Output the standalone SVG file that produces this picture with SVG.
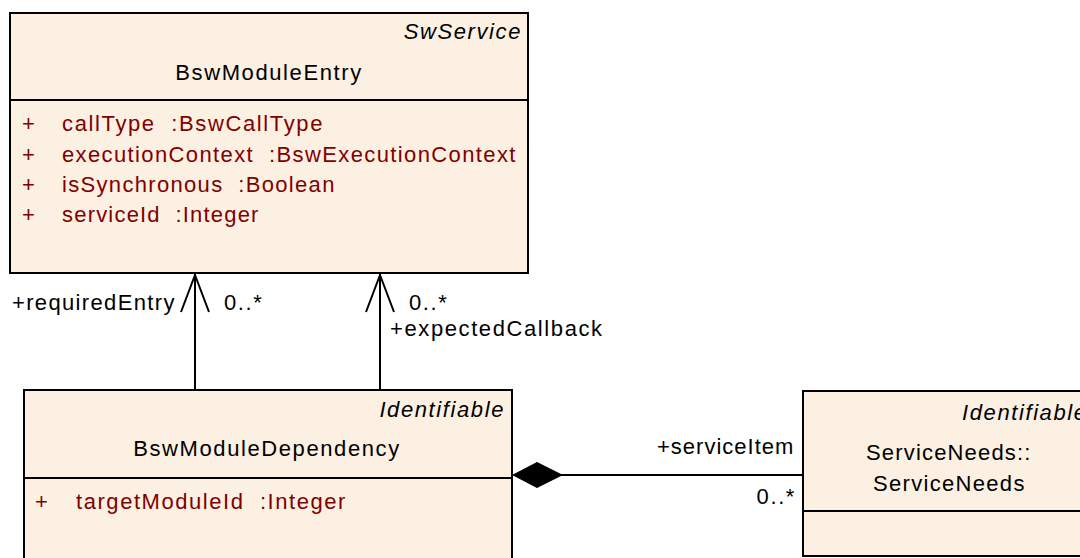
<svg xmlns="http://www.w3.org/2000/svg" width="1080" height="558" viewBox="0 0 1080 558">
  <style>
    .cls { fill: #FBF0E2; stroke: #000; stroke-width: 2; }
    .sep { stroke: #000; stroke-width: 2; }
    text { font-family: "Liberation Sans", Arial, sans-serif; font-size: 22px; letter-spacing: 1.6px; fill: #000; }
    .stereo { font-style: italic; text-anchor: end; }
    .name { text-anchor: middle; }
    .attr { fill: #800000; white-space: pre; }
    .edge { stroke: #000; stroke-width: 2; fill: none; }
  </style>

  <!-- BswModuleEntry -->
  <g id="BswModuleEntry">
    <rect class="cls" x="10" y="13" width="518" height="260"/>
    <line class="sep" x1="10" y1="100" x2="528" y2="100"/>
    <text class="stereo" x="522" y="39">SwService</text>
    <text class="name" x="269" y="80">BswModuleEntry</text>
    <text class="attr" x="22" y="131">+</text>
    <text class="attr" x="62" y="131" textLength="262">callType  :BswCallType</text>
    <text class="attr" x="22" y="162">+</text>
    <text class="attr" x="62" y="162" textLength="455">executionContext  :BswExecutionContext</text>
    <text class="attr" x="22" y="192">+</text>
    <text class="attr" x="62" y="192" textLength="274">isSynchronous  :Boolean</text>
    <text class="attr" x="22" y="222">+</text>
    <text class="attr" x="62" y="222" textLength="198">serviceId  :Integer</text>
  </g>

  <!-- BswModuleDependency -->
  <g id="BswModuleDependency">
    <rect class="cls" x="24" y="390" width="488" height="190"/>
    <line class="sep" x1="24" y1="478" x2="512" y2="478"/>
    <text class="stereo" x="505" y="417">Identifiable</text>
    <text class="name" x="267" y="456">BswModuleDependency</text>
    <text class="attr" x="35" y="509">+</text>
    <text class="attr" x="76" y="509" textLength="271">targetModuleId  :Integer</text>
  </g>

  <!-- ServiceNeeds -->
  <g id="ServiceNeeds">
    <rect class="cls" x="803" y="391" width="300" height="165"/>
    <line class="sep" x1="803" y1="511" x2="1103" y2="511"/>
    <text x="962" y="420" style="font-style:italic">Identifiable</text>
    <text x="866" y="460" textLength="166">ServiceNeeds::</text>
    <text x="873" y="491" textLength="153">ServiceNeeds</text>
  </g>

  <!-- associations -->
  <g id="connectors">
    <line class="edge" x1="195" y1="274" x2="195" y2="390"/>
    <polyline class="edge" points="181,312 195,275 209,312"/>
    <text x="12" y="310" textLength="164">+requiredEntry</text>
    <text x="224" y="310">0..*</text>

    <line class="edge" x1="380" y1="274" x2="380" y2="390"/>
    <polyline class="edge" points="366,312 380,275 394,312"/>
    <text x="409" y="310">0..*</text>
    <text x="390" y="336">+expectedCallback</text>

    <line class="edge" x1="560" y1="475" x2="803" y2="475"/>
    <polygon points="513,475 537,462.5 562,475 537,487.5" fill="#000" stroke="#000" stroke-width="1"/>
    <text x="657" y="454" textLength="138">+serviceItem</text>
    <text x="796" y="504" text-anchor="end">0..*</text>
  </g>
</svg>
